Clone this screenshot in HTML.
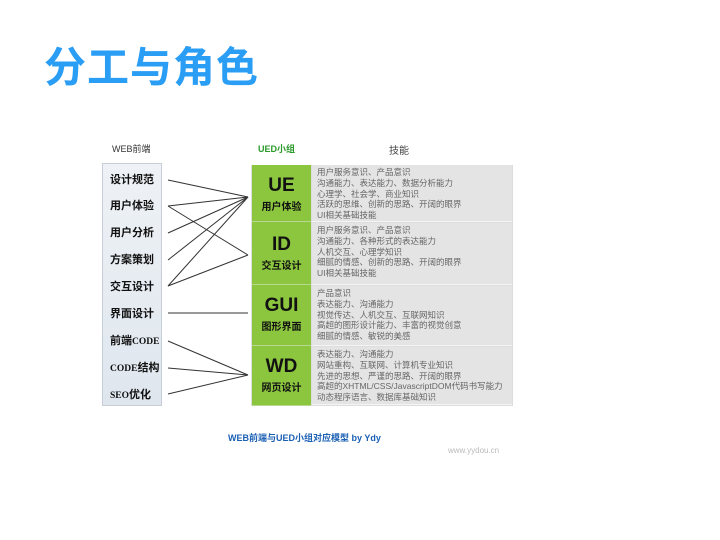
<!DOCTYPE html>
<html><head><meta charset="utf-8"><style>
body{margin:0;width:720px;height:540px;background:#fff;position:relative;overflow:hidden;font-family:"Liberation Sans","Noto Sans CJK SC",sans-serif}
.a{position:absolute;white-space:nowrap}
.t{left:44px;top:34px;font-size:42px;font-weight:bold;color:#2a9df4;letter-spacing:1px}
.lb{left:102px;top:163px;width:58px;height:241px;background:linear-gradient(#eef2f6,#dfe6ee);border:1px solid #c8ced6}
.li{left:110px;font-size:11px;font-weight:bold;color:#111}
.li i{font-style:normal;font-family:"Liberation Serif",serif;font-size:9.5px}
.g{left:252px;width:59px;background:#8cc63f;border-bottom:1px solid #b8d890;text-align:center;color:#111}
.g b{display:block;font-family:"Liberation Sans",sans-serif;font-size:19px;font-weight:900;margin-top:10px;line-height:22px}
.g span{font-size:10px;font-weight:bold}
.s{left:312px;width:200px;background:#e4e4e4;border-bottom:1px solid #f4f4f4;font-size:8.5px;line-height:10.8px;color:#666;padding:2px 0 0 5px;box-sizing:border-box}
</style></head><body>
<div class="a t">分工与角色</div>
<div class="a" style="left:112px;top:142px;font-size:9px;color:#333">WEB前端</div>
<div class="a" style="left:258px;top:142px;font-size:9px;color:#2a9a2a;font-weight:bold">UED小组</div>
<div class="a" style="left:389px;top:142px;font-size:10px;color:#444">技能</div>
<div class="a lb"></div>
<div class="a li" style="top:171px">设计规范</div>
<div class="a li" style="top:197px">用户体验</div>
<div class="a li" style="top:224px">用户分析</div>
<div class="a li" style="top:251px">方案策划</div>
<div class="a li" style="top:278px">交互设计</div>
<div class="a li" style="top:305px">界面设计</div>
<div class="a li" style="top:332px">前端<i>CODE</i></div>
<div class="a li" style="top:359px"><i>CODE</i>结构</div>
<div class="a li" style="top:386px"><i>SEO</i>优化</div>
<div class="a" style="left:251px;top:165px;width:262px;height:241px;background:#ddd"></div>
<div class="a g" style="top:165px;height:56px"><b>UE</b><span>用户体验</span></div>
<div class="a g" style="top:222px;height:62px"><b style="margin-top:12px">ID</b><span>交互设计</span></div>
<div class="a g" style="top:285px;height:60px"><b>GUI</b><span>图形界面</span></div>
<div class="a g" style="top:346px;height:59px"><b>WD</b><span>网页设计</span></div>
<div class="a s" style="top:165px;height:57px">用户服务意识、产品意识<br>沟通能力、表达能力、数据分析能力<br>心理学、社会学、商业知识<br>活跃的思维、创新的思路、开阔的眼界<br>UI相关基础技能</div>
<div class="a s" style="top:223px;height:62px">用户服务意识、产品意识<br>沟通能力、各种形式的表达能力<br>人机交互、心理学知识<br>细腻的情感、创新的思路、开阔的眼界<br>UI相关基础技能</div>
<div class="a s" style="top:286px;height:60px">产品意识<br>表达能力、沟通能力<br>视觉传达、人机交互、互联网知识<br>高超的图形设计能力、丰富的视觉创意<br>细腻的情感、敏锐的美感</div>
<div class="a s" style="top:347px;height:58px">表达能力、沟通能力<br>网站重构、互联网、计算机专业知识<br>先进的思想、严谨的思路、开阔的眼界<br>高超的XHTML/CSS/JavascriptDOM代码书写能力<br>动态程序语言、数据库基础知识</div>
<svg class="a" style="left:0;top:0" width="720" height="540"><g stroke="#333" stroke-width="1" fill="none">
<line x1="168" y1="180" x2="248" y2="197"/><line x1="168" y1="206" x2="248" y2="197"/><line x1="168" y1="233" x2="248" y2="197"/><line x1="168" y1="260" x2="248" y2="197"/><line x1="168" y1="286" x2="248" y2="197"/>
<line x1="168" y1="206" x2="248" y2="255"/><line x1="168" y1="286" x2="248" y2="255"/>
<line x1="168" y1="313" x2="248" y2="313"/>
<line x1="168" y1="341" x2="248" y2="375"/><line x1="168" y1="368" x2="248" y2="375"/><line x1="168" y1="394" x2="248" y2="375"/>
</g></svg>
<div class="a" style="left:228px;top:431px;font-size:9px;font-weight:bold;color:#1a5fb4">WEB前端与UED小组对应模型 by Ydy</div>
<div class="a" style="left:448px;top:446px;font-size:8px;color:#bbb">www.yydou.cn</div>
</body></html>
